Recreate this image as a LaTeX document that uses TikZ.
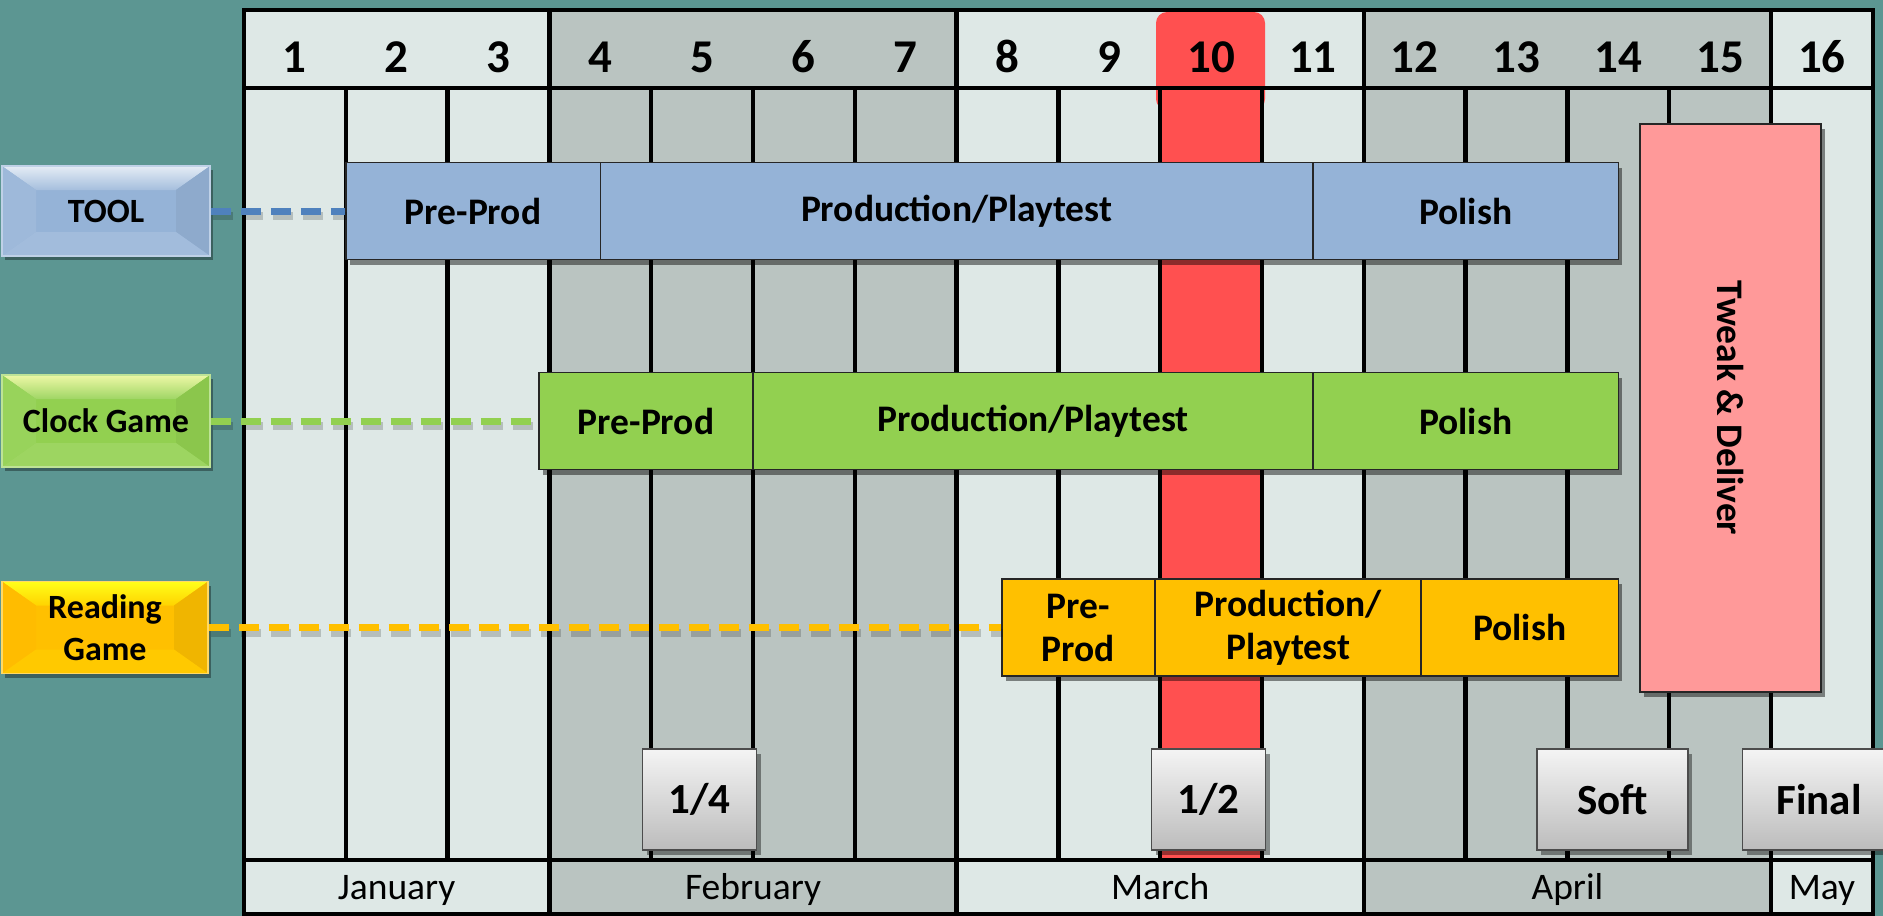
\documentclass[tikz,border=0pt]{standalone}
\usepackage{fontspec}
\setmainfont{Carlito}
\usepackage{graphicx}
\usetikzlibrary{shadows}
\definecolor{bgteal}{RGB}{92,150,146}
\definecolor{celllight}{RGB}{222,232,230}
\definecolor{cellgrey}{RGB}{186,196,193}
\definecolor{redcol}{RGB}{255,80,80}
\definecolor{toolblue}{RGB}{149,179,215}
\definecolor{toolline}{RGB}{79,129,189}
\definecolor{clockgreen}{RGB}{146,208,80}
\definecolor{readgold}{RGB}{255,192,0}
\definecolor{tweakpink}{RGB}{255,153,153}
\definecolor{msTop}{RGB}{244,244,244}
\definecolor{msBot}{RGB}{188,188,188}
\newcommand{\colx}[1]{(244+101.8*(#1))}
\tikzset{
  gridline/.style={line width=4.5pt, black},
  hdr/.style={anchor=base, inner sep=0pt, font=\fontsize{47}{47}\selectfont\bfseries},
  mon/.style={anchor=base, inner sep=0pt, font=\fontsize{37.5}{37.5}\selectfont},
  bar/.style={draw=black!85, line width=1.5pt, inner sep=0pt, align=center,
    font=\fontsize{37.5}{43}\selectfont\bfseries,
    drop shadow={shadow xshift=4pt, shadow yshift=-5pt, opacity=0.45, fill=black}},
  ms/.style={draw=black!70, line width=1.3pt, inner sep=0pt, top color=msTop, bottom color=msBot,
    font=\fontsize{43}{43}\selectfont\bfseries,
    drop shadow={shadow xshift=4pt, shadow yshift=-5pt, opacity=0.4, fill=black}},
  bevel/.style n args={4}{path picture={
    \path (path picture bounding box.north west) coordinate (pNW)
          (path picture bounding box.north east) coordinate (pNE)
          (path picture bounding box.south west) coordinate (pSW)
          (path picture bounding box.south east) coordinate (pSE);
    \path ([shift={(34pt,-24pt)}]pNW) coordinate (iNW)
          ([shift={(-34pt,-24pt)}]pNE) coordinate (iNE)
          ([shift={(34pt,24pt)}]pSW) coordinate (iSW)
          ([shift={(-34pt,24pt)}]pSE) coordinate (iSE);
    \fill[#1] (pNW) -- (pNE) -- (iNE) -- (iNW) -- cycle;
    \fill[#2] (pNW) -- (iNW) -- (iSW) -- (pSW) -- cycle;
    \fill[#3] (pNE) -- (iNE) -- (iSE) -- (pSE) -- cycle;
    \fill[#4] (pSW) -- (iSW) -- (iSE) -- (pSE) -- cycle;
  }},
  lbl/.style={inner sep=0pt, line width=1.5pt, align=center,
    font=\fontsize{34}{42}\selectfont\bfseries,
    drop shadow={shadow xshift=3pt, shadow yshift=-4pt, opacity=0.35, fill=black}},
  dashline/.style={line width=7pt, dash pattern=on 20pt off 10pt,
    preaction={draw=black, opacity=0.18, line width=8pt, dash pattern=on 20pt off 10pt,
      transform canvas={shift={(2pt,-5pt)}}}}
}
\begin{document}
\begin{tikzpicture}[x=1pt,y=-1pt]
\clip (0,0) rectangle (1883,916);
\fill[bgteal] (0,0) rectangle (1883,916);
% month columns
\foreach \a/\b/\c in {0/3/celllight,3/7/cellgrey,7/11/celllight,11/15/cellgrey,15/16/celllight}
  \fill[\c] ({\colx{\a}},10) rectangle ({\colx{\b}},914);
% red week 10
\fill[redcol, rounded corners=11pt] (1156,12) rectangle (1265,110);
\fill[redcol] ({\colx{9}},88) rectangle ({\colx{10}},860);
% grid
\draw[gridline] (244,10) rectangle (1873,914);
\draw[gridline] (244,88) -- (1873,88);
\draw[gridline] (244,860) -- (1873,860);
\foreach \i in {1,...,15} \draw[gridline] ({\colx{\i}},88) -- ({\colx{\i}},860);
\foreach \i in {3,7,11,15} \draw[gridline] ({\colx{\i}},10) -- ({\colx{\i}},914);
% header numbers
\foreach \i in {1,...,16} \node[hdr] (h\i) at ({\colx{\i-0.5}},72) {\i};
% months
\node[mon] (jan) at ({\colx{1.5}},899) {January};
\node[mon] (feb) at ({\colx{5}},899) {February};
\node[mon] (mar) at ({\colx{9}},899) {March};
\node[mon] (apr) at ({\colx{13}},899) {April};
\node[mon] (may) at ({\colx{15.5}},899) {May};
% tool row
\node[bar, fill=toolblue, minimum width=254.5pt, minimum height=97pt] (tpre) at (473,211) {Pre-Prod};
\node[bar, fill=toolblue, minimum width=712.6pt, minimum height=97pt] (tprod) at (956.6,211) {Production/Playtest};
\node[bar, fill=toolblue, minimum width=305.4pt, minimum height=97pt] (tpol) at (1465.6,211) {Polish};
% clock row
\node[bar, fill=clockgreen, minimum width=214pt, minimum height=97pt] (cpre) at (646,421) {Pre-Prod};
\node[bar, fill=clockgreen, minimum width=560pt, minimum height=97pt] (cprod) at (1033,421) {Production/Playtest};
\node[bar, fill=clockgreen, minimum width=305.4pt, minimum height=97pt] (cpol) at (1465.6,421) {Polish};
% reading row
\node[bar, fill=readgold, minimum width=153pt, minimum height=97pt] (rpre) at (1078.5,627.5) {Pre-\\Prod};
\node[bar, fill=readgold, minimum width=266pt, minimum height=97pt] (rprod) at (1288,627.5) {Production/\\Playtest};
\node[bar, fill=readgold, minimum width=197.3pt, minimum height=97pt] (rpol) at (1519.7,627.5) {Polish};
% tweak
\node[bar, fill=tweakpink, minimum width=181pt, minimum height=568pt] (tweak) at (1730.5,408) {\rotatebox{-90}{Tweak \& Deliver}};
% milestones
\node[ms, minimum width=114pt, minimum height=101pt] (m14) at (699.5,799.5) {1/4};
\node[ms, minimum width=114pt, minimum height=101pt] (m12) at (1208.7,799.5) {1/2};
\node[ms, minimum width=151pt, minimum height=101pt] (msoft) at (1612.5,799.5) {Soft};
\node[ms, minimum width=153pt, minimum height=101pt] (mfinal) at (1819,799.5) {Final};
% labels
\node[lbl, fill=toolblue, draw=toolblue!60!white, minimum width=208pt, minimum height=90pt,
  bevel={top color=toolblue!25!white, bottom color=toolblue!85!white}{toolblue!92!white}{toolblue!95!black}{toolblue!88!white}] (tool) at (106,211) {TOOL};
\node[lbl, fill=clockgreen, draw=clockgreen!60!white, minimum width=208pt, minimum height=92pt,
  bevel={top color=clockgreen!40!yellow!40!white, bottom color=clockgreen!88!white}{clockgreen!94!white}{clockgreen!95!black}{clockgreen!90!white}] (clock) at (106,421) {Clock Game};
\node[lbl, fill=readgold, draw=readgold!60!white, minimum width=206pt, minimum height=92pt,
  bevel={top color=yellow!90!white, bottom color=readgold!70!yellow}{readgold!94!orange}{readgold!94!black}{readgold!85!yellow}] (reading) at (105,627.5) {Reading\\Game};
% connectors
\draw[dashline, toolline] (tool.east) -- (tpre.west);
\draw[dashline, clockgreen] (clock.east) -- (cpre.west);
\draw[dashline, readgold] (reading.east) -- (rpre.west);
\end{tikzpicture}
\end{document}
